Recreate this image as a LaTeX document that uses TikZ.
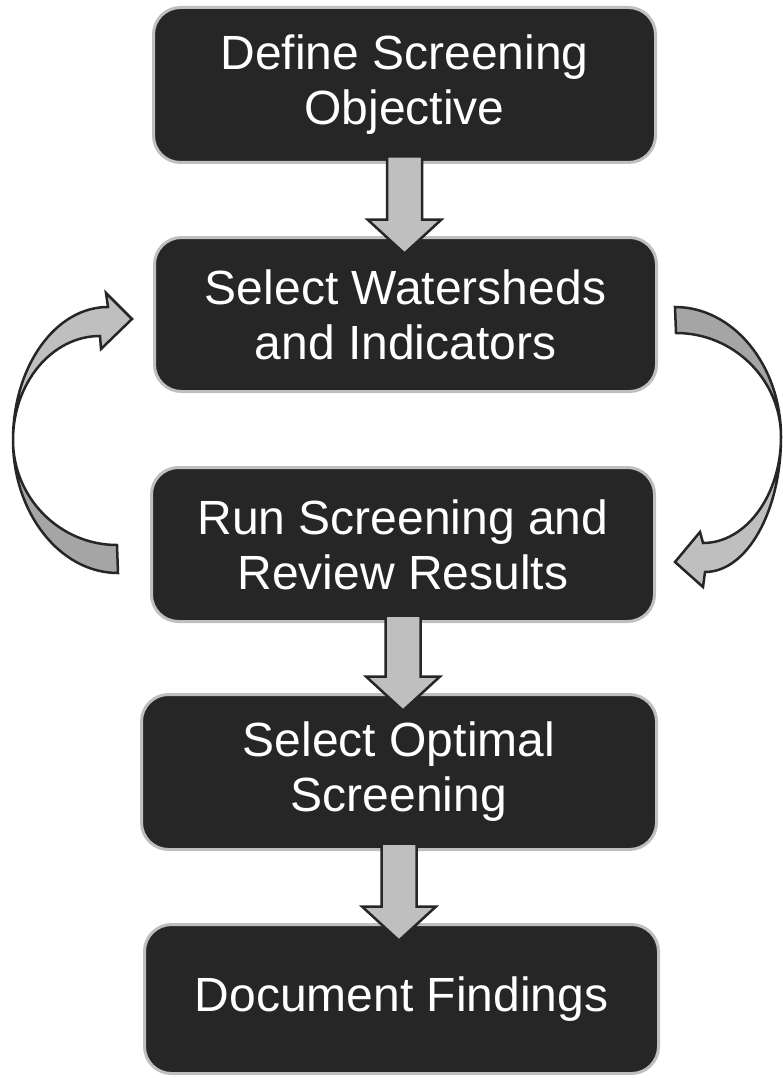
\documentclass[tikz,border=0pt]{standalone}
\usepackage{fontspec}
\setmainfont{Liberation Sans}
\usepackage{tikz}
\usetikzlibrary{calc}
\definecolor{boxdark}{HTML}{262626}
\definecolor{boxedge}{HTML}{BFBFBF}
\definecolor{arrowlight}{HTML}{BFBFBF}
\definecolor{arrowdark}{HTML}{A5A5A5}
\tikzstyle{stepbox}=[draw=boxedge, line width=3pt, fill=boxdark, rounded corners=27pt, text=white, align=center, inner sep=0pt, outer sep=0pt, font=\fontsize{48}{55}\selectfont]
\tikzstyle{arrowlit}=[draw=boxdark, line width=2.5pt, fill=arrowlight]
\tikzstyle{arrowshade}=[draw=boxdark, line width=2.5pt, fill=arrowdark]
\newcommand{\blockarrow}[2]{
 \filldraw[arrowlit] ($(#1.south)+(-17.5,6)$) -- ($(#1.south)+(17.5,6)$)
  -- ($(#2.north -| #1.south)+(17.5,18)$) -- ($(#2.north -| #1.south)+(37,18)$)
  -- ($(#2.north -| #1.south)+(0,-16)$)
  -- ($(#2.north -| #1.south)+(-37,18)$) -- ($(#2.north -| #1.south)+(-17.5,18)$) -- cycle;
}

\begin{document}
\begin{tikzpicture}[x=1pt, y=1pt]
 \useasboundingbox (0,0) rectangle (783,-1078);
%
 \node[stepbox, minimum width=502, minimum height=155] (define) at (404.5,-85) {Define Screening\\Objective};
 \node[stepbox, minimum width=502, minimum height=154] (select) at (405.5,-314.5) {Select Watersheds\\and Indicators};
 \node[stepbox, minimum width=503, minimum height=154] (run) at (403,-544.5) {Run Screening and\\Review Results};
 \node[stepbox, minimum width=515, minimum height=155] (optimal) at (399,-772) {Select Optimal\\Screening};
 \node[stepbox, minimum width=514, minimum height=149] (findings) at (401.5,-999) {Document Findings};
%
 \blockarrow{define}{select}
 \blockarrow{run}{optimal}
 \blockarrow{optimal}{findings}
%
% loop back on the left
 \filldraw[arrowshade] (13,-440) .. controls (13,-513) and (60,-573) .. (118,-573)
  -- (117,-545) .. controls (60,-545) and (13,-498) .. (13,-440);
 \filldraw[arrowlit] (108,-307) .. controls (55,-307) and (13,-367) .. (13,-440)
  .. controls (13,-383) and (52,-336) .. (100,-336)
  -- (101,-349) -- (132,-319) -- (106,-293) -- cycle;
% loop forward on the right
 \filldraw[arrowshade] (675,-307) .. controls (733,-307) and (781,-365) .. (781,-437)
  .. controls (781,-380) and (734,-333) .. (676,-333) -- cycle;
 \filldraw[arrowlit] (781,-437) .. controls (781,-511) and (747,-572) .. (705,-572)
  -- (703,-587) -- (675,-562) -- (700,-532) -- (703,-543)
  .. controls (746,-543) and (781,-495) .. (781,-437);
\end{tikzpicture}
\end{document}
